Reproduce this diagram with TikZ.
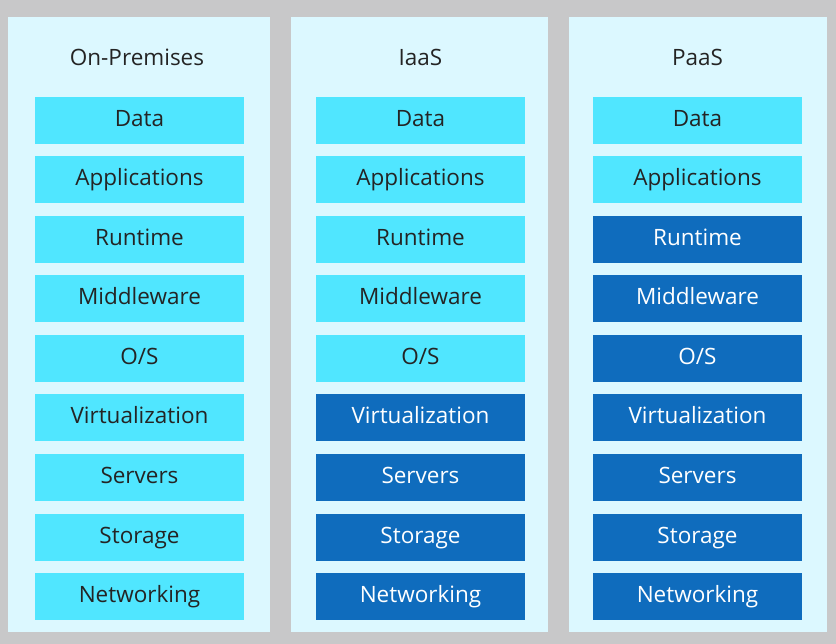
\documentclass[tikz,border=0pt]{standalone}
\usepackage{fontspec}
\setmainfont{Open Sans}
\definecolor{frame}{HTML}{C8C8C9}
\definecolor{panel}{HTML}{DCF8FF}
\definecolor{lite}{HTML}{50E6FF}
\definecolor{dark}{HTML}{0F6CBD}
\definecolor{ink}{HTML}{242424}
\tikzset{
  layer/.style={minimum width=209pt, minimum height=47pt, inner sep=0pt, text height=16pt, text depth=4pt, font=\fontsize{22.5}{26}\selectfont},
  own/.style={layer, fill=lite, text=ink},
  managed/.style={layer, fill=dark, text=white},
  title/.style={font=\fontsize{22.5}{26}\selectfont, text=ink, text height=16pt, text depth=4pt}
}
\begin{document}
\begin{tikzpicture}[x=1pt,y=-1pt]
    \fill[frame] (0,0) rectangle (836,644);
    % panels
    \fill[panel] (8,17) rectangle (270,632);
    \fill[panel] (291,17) rectangle (548,632);
    \fill[panel] (569,17) rectangle (827,632);

    \node[title] (onprem) at (137,60) {On-Premises};
    \node[title] (iaas) at (420.5,60) {IaaS};
    \node[title] (paas) at (697.5,60) {PaaS};

    % layers: rows with index above the limit are provider-managed
    \foreach \lbl [count=\i from 0] in {Data,Applications,Runtime,Middleware,O/S,Virtualization,Servers,Storage,Networking} {
        \node[own] (op\i) at (139.5,120.5+59.5*\i) {\lbl};
        \ifnum\i>4
            \node[managed] (ia\i) at (420.5,120.5+59.5*\i) {\lbl};
        \else
            \node[own] (ia\i) at (420.5,120.5+59.5*\i) {\lbl};
        \fi
        \ifnum\i>1
            \node[managed] (pa\i) at (697.5,120.5+59.5*\i) {\lbl};
        \else
            \node[own] (pa\i) at (697.5,120.5+59.5*\i) {\lbl};
        \fi
    }
\end{tikzpicture}
\end{document}
